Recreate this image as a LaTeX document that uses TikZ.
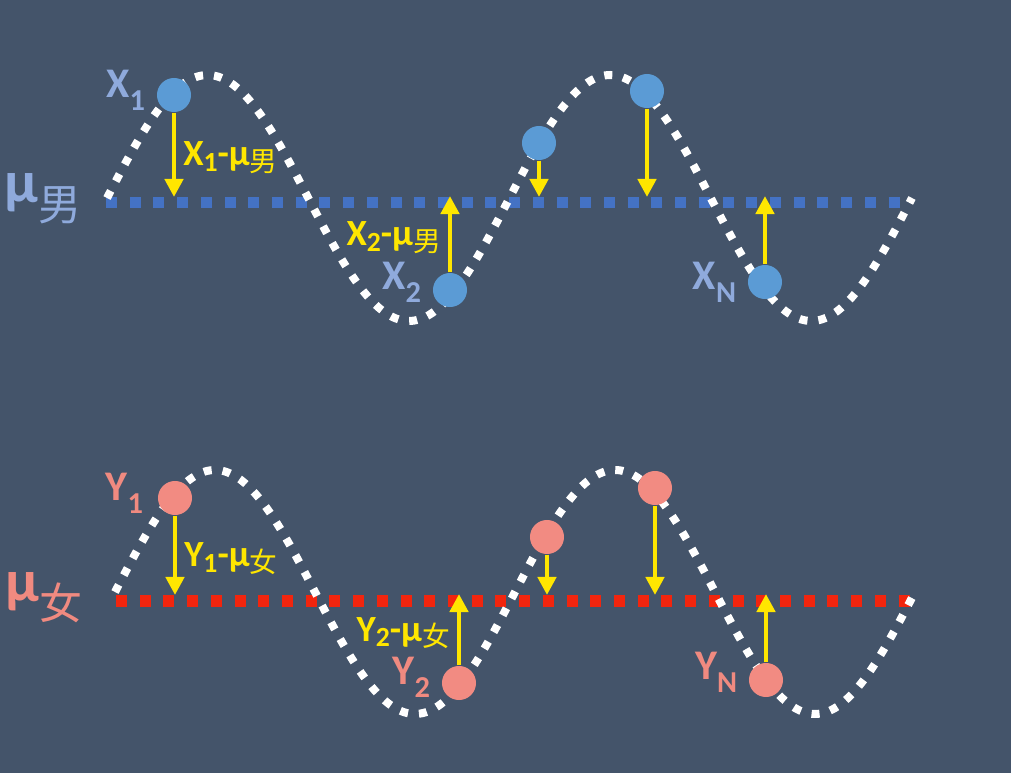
\documentclass[tikz,border=0pt]{standalone}
\usepackage{fontspec}
\usepackage{graphicx}
\setmainfont{Carlito}
\newfontfamily\cjk{Noto Sans CJK SC}
\usetikzlibrary{arrows.meta,positioning}
\definecolor{slate}{HTML}{44546A}
\definecolor{menline}{HTML}{4472C4}
\definecolor{mendot}{HTML}{5B9BD5}
\definecolor{mentext}{HTML}{8FAADC}
\definecolor{womline}{HTML}{F2250E}
\definecolor{womdot}{HTML}{F28B82}
\definecolor{womtext}{HTML}{F08A80}
\definecolor{devyellow}{HTML}{FFE600}
\newcommand\subpt[1]{\raisebox{-0.3em}{\scalebox{0.72}{#1}}}
\newcommand\subdev[1]{\raisebox{-0.15em}{\scalebox{0.75}{#1}}}
\newcommand\chnan{{\cjk\mdseries 男}}
\newcommand\chnv{{\cjk\mdseries 女}}

\begin{document}
\begin{tikzpicture}[
    x=0.01cm, y=-0.01cm,
    wave/.style={white, line width=0.08cm, dash pattern=on 0.08cm off 0.11cm},
    meanline/.style={line width=0.11cm, dash pattern=on 0.11cm off 0.127cm},
    sample/.style={circle, inner sep=0pt, minimum size=0.34cm},
    dev/.style={devyellow, line width=0.045cm, -{Triangle[length=0.18cm,width=0.18cm]}},
    devdown/.style={dev, shorten >=0.06cm},
    devup/.style={dev, shorten >=-0.07cm},
    devlab/.style={devyellow, font=\fontsize{10.5}{12}\selectfont\bfseries, inner sep=2pt},
    ptlab/.style={font=\fontsize{12}{14}\selectfont\bfseries, inner sep=1pt},
    meanlab/.style={font=\fontsize{17}{19}\selectfont\bfseries, inner sep=0pt}
    ]
    \fill[slate] (0,0) rectangle (1011,773);

    \coordinate (mx0) at (106,203);
    \coordinate (mx1) at (912,203);
    \draw[meanline, menline] (mx0) -- (mx1);
    \draw[wave] plot[domain=107:912, samples=161, smooth] (\x, {198-123*sin(0.89441*(\x-107))});
    \node[meanlab, mentext, left=0.24cm of mx0, yshift=0.04cm] (mumen) {μ\subpt{\chnan}};

    \node[sample, fill=mendot] (x1) at (174,95) {};
    \node[sample, fill=mendot] (x2) at (450,290) {};
    \node[sample, fill=mendot] (x3) at (539,143) {};
    \node[sample, fill=mendot] (x4) at (647,91) {};
    \node[sample, fill=mendot] (xn) at (765,282) {};
    \node[ptlab, mentext, left=0.07cm of x1, yshift=0.05cm] (x1lab) {X\subpt{1}};
    \node[ptlab, mentext, left=0.07cm of x2, yshift=0.08cm] (x2lab) {X\subpt{2}};
    \node[ptlab, mentext, left=0.07cm of xn] (xnlab) {X\subpt{N}};

    \draw[devdown] (x1) -- (x1 |- mx0) node[devlab, midway, right] (d1) {X\subdev{1}-μ\subdev{\chnan}};
    \draw[devup] (x2) -- (x2 |- mx0) node[devlab, midway, left] (d2) {X\subdev{2}-μ\subdev{\chnan}};
    \draw[devdown] (x3) -- (x3 |- mx0);
    \draw[devdown] (x4) -- (x4 |- mx0);
    \draw[devup] (xn) -- (xn |- mx0);

    \coordinate (my0) at (116,601);
    \coordinate (my1) at (912,601);
    \draw[meanline, womline] (my0) -- (my1);
    \draw[wave] plot[domain=115:915, samples=161, smooth] (\x, {592-122*sin(0.9*(\x-115))});
    \node[meanlab, womtext, left=0.33cm of my0, yshift=0.03cm] (muwom) {μ\subpt{\chnv}};

    \node[sample, fill=womdot] (y1) at (175,498) {};
    \node[sample, fill=womdot] (y2) at (459,683) {};
    \node[sample, fill=womdot] (y3) at (547,537) {};
    \node[sample, fill=womdot] (y4) at (655,488) {};
    \node[sample, fill=womdot] (yn) at (766,680) {};
    \node[ptlab, womtext, left=0.1cm of y1, yshift=0.05cm] (y1lab) {Y\subpt{1}};
    \node[ptlab, womtext, left=0.07cm of y2, yshift=0.06cm] (y2lab) {Y\subpt{2}};
    \node[ptlab, womtext, left=0.07cm of yn, yshift=0.08cm] (ynlab) {Y\subpt{N}};

    \draw[devdown] (y1) -- (y1 |- my0) node[devlab, midway, right] (e1) {Y\subdev{1}-μ\subdev{\chnv}};
    \draw[devup] (y2) -- (y2 |- my0) node[devlab, midway, left] (e2) {Y\subdev{2}-μ\subdev{\chnv}};
    \draw[devdown] (y3) -- (y3 |- my0);
    \draw[devdown] (y4) -- (y4 |- my0);
    \draw[devup] (yn) -- (yn |- my0);
\end{tikzpicture}
\end{document}
